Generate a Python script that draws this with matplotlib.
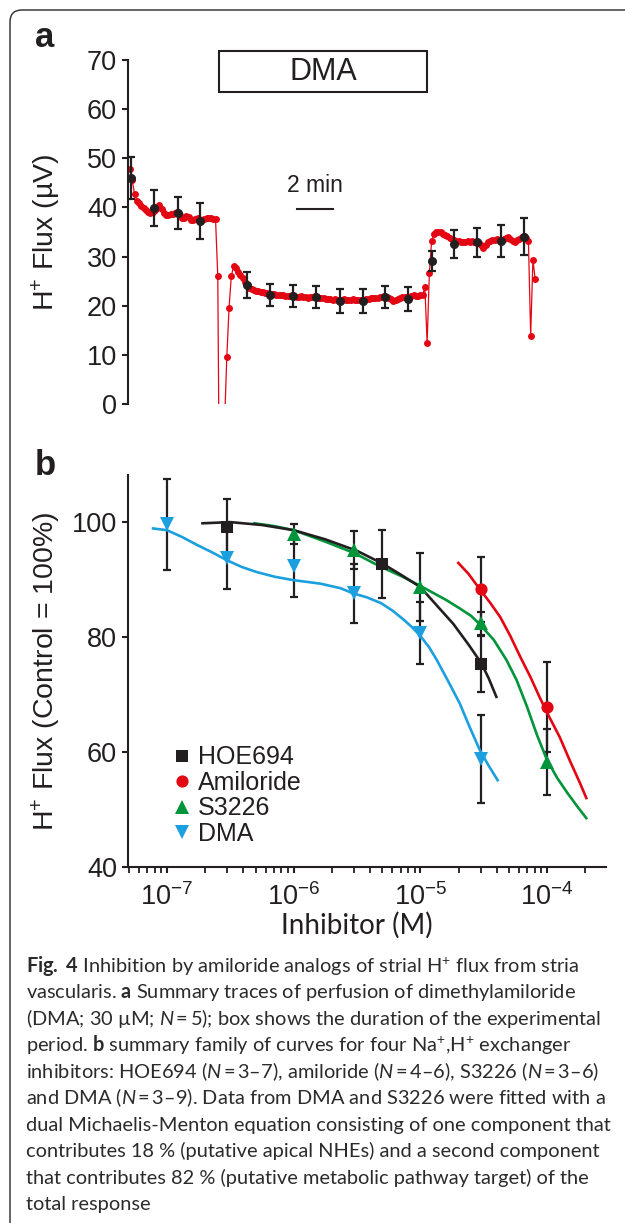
import numpy as np
import matplotlib
matplotlib.use("Agg")
import matplotlib.pyplot as plt
from matplotlib.patches import Rectangle, FancyBboxPatch
from matplotlib.lines import Line2D
from matplotlib.ticker import LogLocator, NullFormatter, FixedLocator

plt.rcParams["font.family"] = ["Liberation Sans", "DejaVu Sans"]
plt.rcParams["mathtext.fontset"] = "custom"
plt.rcParams["mathtext.rm"] = "Lato"
plt.rcParams["mathtext.it"] = "Lato:italic"
plt.rcParams["mathtext.bf"] = "Lato:bold"
plt.rcParams["mathtext.default"] = "regular"

INK = "#231f20"
RED = "#e30613"
GREEN = "#00953a"
BLUE = "#1b9fdf"

# ---------- panel a: DMA perfusion, summary trace ----------
DT_MIN = 0.125  # sampling interval of the trace (min)
trace_flux = [
    47.8, 45.5, 42.8, 41.4, 40.8, 40.3, 39.8, 39.5, 39.1, 38.8,
    39.0, 39.5, 39.8, 40.4, 39.6, 38.8, 38.5, 38.5, 38.6, 38.6,
    38.8, 39.0, 38.5, 37.9, 37.9, 38.2, 38.0, 37.5, 37.4, 37.6,
    37.8, 37.5, 37.4, 37.7, 37.9, 37.8, 37.8, 37.7, 37.6, 26.0,
    -38.0, -42.0, -4.0, 9.5, 19.5, 26.0, 28.0, 27.7, 26.9, 26.2,
    25.6, 24.8, 24.2, 23.7, 23.4, 23.1, 23.0, 22.9, 22.7, 22.7,
    22.6, 22.6, 22.4, 22.3, 22.3, 22.2, 22.2, 22.1, 22.2, 22.0,
    21.9, 22.0, 22.1, 21.9, 21.8, 21.8, 21.9, 21.7, 21.8, 21.6,
    21.7, 21.8, 21.9, 21.7, 21.6, 21.5, 21.6, 21.4, 21.3, 21.4,
    21.2, 21.3, 21.2, 21.1, 21.2, 21.3, 21.2, 21.1, 21.2, 21.3,
    21.2, 21.1, 21.2, 21.1, 21.2, 21.3, 21.4, 21.5, 21.6, 21.5,
    21.6, 21.7, 21.8, 21.9, 21.7, 21.5, 21.3, 21.0, 21.1, 21.4,
    21.6, 21.7, 21.8, 21.7, 21.8, 22.0, 22.1, 22.0, 22.0, 22.1,
    22.2, 23.8, 12.4, 26.7, 33.2, 34.6, 35.0, 35.1, 35.0, 34.6,
    34.4, 34.1, 33.8, 33.5, 33.3, 33.2, 33.1, 33.0, 33.0, 33.0,
    33.1, 33.0, 33.1, 33.0, 32.9, 32.8, 32.4, 31.7, 32.3, 33.0,
    33.2, 33.3, 33.4, 33.5, 33.4, 33.3, 33.5, 33.7, 33.9, 33.6,
    33.2, 33.0, 33.3, 33.6, 33.9, 34.1, 33.8, 33.2, 13.9, 29.4,
    25.4,
]
mean_t = [0.06, 1.33, 2.67, 3.89, 6.50, 7.78, 9.06, 10.33, 11.67,
          12.94, 14.17, 15.44, 16.78, 18.00, 19.28, 20.61, 21.89]
mean_flux = [46.0, 39.9, 38.9, 37.2, 24.2, 22.2, 22.0, 21.8, 21.0,
             21.0, 21.8, 21.4, 29.1, 32.6, 32.9, 33.2, 34.0]
mean_sem = [4.2, 3.6, 3.2, 3.7, 2.65, 2.3, 2.25, 2.25, 2.45,
            2.4, 2.2, 2.4, 2.0, 2.85, 2.95, 3.25, 3.75]
dma_on, dma_off = 4.94, 16.5      # perfusion period (min)
bar_start, bar_len = 9.28, 2.0    # time scale bar (min)

# ---------- panel b: concentration-response ----------
hoe_conc = [3e-7, 5e-6, 3e-5]
hoe_flux = [99.1, 92.7, 75.3]
hoe_sem = [4.9, 5.9, 4.9]
ami_conc = [3e-5, 1e-4]
ami_flux = [88.3, 67.8]
ami_sem = [5.6, 7.8]
s32_conc = [1e-6, 3e-6, 1e-5, 3e-5, 1e-4]
s32_flux = [97.9, 95.1, 88.7, 82.4, 58.3]
s32_sem = [1.7, 3.3, 5.9, 2.0, 5.7]
dma_conc = [1e-7, 3e-7, 1e-6, 3e-6, 1e-5, 3e-5]
dma_flux = [99.6, 93.7, 92.3, 87.6, 80.7, 58.8]
dma_sem = [7.9, 5.4, 5.3, 5.2, 5.4, 7.6]

# fitted curves (log10 M, %)
hoe_fit_logc = [-6.72, -6.5, -6.25, -6.0, -5.75, -5.5, -5.3, -5.15, -5.0,
                -4.85, -4.74, -4.62, -4.52, -4.46, -4.40]
hoe_fit = [99.8, 100.0, 99.5, 98.6, 97.0, 95.0, 92.8, 90.8, 88.7,
           85.0, 82.3, 78.7, 75.5, 72.8, 69.6]
ami_fit_logc = [-4.70, -4.62, -4.53, -4.45, -4.37, -4.29, -4.21, -4.13,
                -4.06, -3.98, -3.90, -3.82, -3.74, -3.69]
ami_fit = [92.9, 91.0, 88.3, 86.0, 83.5, 80.2, 76.5, 73.0,
           69.6, 66.0, 62.6, 58.5, 54.6, 52.0]
s32_fit_logc = [-6.31, -6.15, -6.0, -5.75, -5.52, -5.31, -5.15, -5.0, -4.9,
                -4.8, -4.69, -4.6, -4.53, -4.42, -4.32, -4.24, -4.16, -4.08,
                -4.0, -3.92, -3.84, -3.76, -3.69]
s32_fit = [99.8, 99.3, 98.6, 96.6, 94.6, 92.2, 90.6, 88.9, 87.7,
           86.5, 85.0, 83.7, 82.2, 79.5, 76.0, 72.5, 68.0, 63.0,
           58.6, 55.5, 52.9, 50.5, 48.5]
dma_fit_logc = [-7.11, -7.0, -6.88, -6.76, -6.64, -6.53, -6.41, -6.29, -6.15,
                -6.0, -5.79, -5.63, -5.53, -5.42, -5.31, -5.22, -5.13, -5.06,
                -5.0, -4.93, -4.87, -4.78, -4.69, -4.61, -4.53, -4.46, -4.39]
dma_fit = [98.9, 98.6, 97.4, 96.0, 94.7, 93.4, 92.2, 91.3, 90.5,
           89.9, 89.3, 88.5, 87.6, 86.9, 85.9, 84.6, 83.0, 81.6,
           80.2, 78.2, 76.0, 72.3, 68.5, 64.3, 60.3, 57.6, 55.1]

TS = "\u2009"  # thin space used around '=' in the caption
caption = [
    r"$\mathbf{Fig.}$ $\mathbf{4}$ Inhibition by amiloride analogs of strial H$^{+}$ flux from stria",
    r"vascularis. $\mathbf{a}$ Summary traces of perfusion of dimethylamiloride",
    rf"(DMA; 30 µM; $\mathit{{N}}${TS}={TS}5); box shows the duration of the experimental",
    r"period. $\mathbf{b}$ summary family of curves for four Na$^{+}$,H$^{+}$ exchanger",
    rf"inhibitors: HOE694 ($\mathit{{N}}${TS}={TS}3–7), amiloride ($\mathit{{N}}${TS}={TS}4–6), "
    rf"S3226 ($\mathit{{N}}${TS}={TS}3–6)",
    rf"and DMA ($\mathit{{N}}${TS}={TS}3–9). Data from DMA and S3226 were fitted with a",
    "dual Michaelis-Menton equation consisting of one component that",
    "contributes 18 % (putative apical NHEs) and a second component",
    "that contributes 82 % (putative metabolic pathway target) of the",
    "total response",
]

W, H = 625, 1223
fig = plt.figure(figsize=(W / 100, H / 100), dpi=100)

# outer frame (top and left edges only, rounded corner)
frame = FancyBboxPatch((0.10, -1.0), 10.0, 13.13, boxstyle="round,pad=0,rounding_size=0.12",
                       transform=fig.dpi_scale_trans, fill=False, ec="#3a3a3a", lw=1.1)
fig.add_artist(frame)

# ---------- panel a ----------
ax_a = fig.add_axes([128 / W, 1 - 404 / H, 472 / W, 344 / H])
t = np.arange(len(trace_flux)) * DT_MIN
ax_a.plot(t, trace_flux, "-", color=RED, lw=0.9, marker="o", ms=5.0, mew=0, zorder=2)
ax_a.errorbar(mean_t, mean_flux, yerr=mean_sem, fmt="o", color=INK, ms=5.5,
              elinewidth=1.6, capsize=3.0, capthick=1.6, zorder=3)
ax_a.set_xlim(-0.111, 26.1)
ax_a.set_ylim(0, 70)
ax_a.set_yticks(range(0, 71, 10))
for s in ("top", "right", "bottom"):
    ax_a.spines[s].set_visible(False)
ax_a.spines["left"].set_linewidth(1.5)
ax_a.spines["left"].set_color(INK)
ax_a.set_xticks([])
ax_a.tick_params(axis="y", labelsize=19.5, length=4.5, width=1.5, pad=3.5, colors=INK)
ax_a.set_ylabel(r"H$^{+}$ Flux (µV)", fontsize=20.5, color=INK)
ax_a.yaxis.set_label_coords(-0.137, 0.5)

ax_a.add_patch(Rectangle((dma_on, 63.5), dma_off - dma_on, 8.3, fill=False,
                         ec=INK, lw=1.5, clip_on=False))
ax_a.text((dma_on + dma_off) / 2, 67.5, "DMA", ha="center", va="center",
          fontsize=22, color=INK, clip_on=False)
ax_a.plot([bar_start, bar_start + bar_len], [39.7, 39.7], color=INK, lw=1.5)
ax_a.text(bar_start + bar_len / 2, 42.2, "2 min", ha="center", va="bottom",
          fontsize=16.5, color=INK)

# ---------- panel b ----------
ax_b = fig.add_axes([128 / W, 1 - 867 / H, 478 / W, 392 / H])
ax_b.set_xscale("log")
ax_b.set_xlim(4.92e-8, 2.92e-4)
ax_b.set_ylim(40, 108.2)


def draw_series(conc, flux, sem, fit_logc, fit, color, marker, ms):
    ax_b.errorbar(conc, flux, yerr=sem, fmt="none", ecolor=INK, elinewidth=1.6,
                  capsize=3.0, capthick=1.6, zorder=2)
    ax_b.plot(10.0 ** np.array(fit_logc), fit, color=color, lw=1.9, zorder=3)
    ax_b.plot(conc, flux, ls="none", marker=marker, ms=ms, color=color, mew=0, zorder=4)


draw_series(dma_conc, dma_flux, dma_sem, dma_fit_logc, dma_fit, BLUE, "v", 10)
draw_series(s32_conc, s32_flux, s32_sem, s32_fit_logc, s32_fit, GREEN, "^", 10)
draw_series(hoe_conc, hoe_flux, hoe_sem, hoe_fit_logc, hoe_fit, INK, "s", 8.3)
draw_series(ami_conc, ami_flux, ami_sem, ami_fit_logc, ami_fit, RED, "o", 8.8)

for s in ("top", "right"):
    ax_b.spines[s].set_visible(False)
for s in ("left", "bottom"):
    ax_b.spines[s].set_linewidth(1.5)
    ax_b.spines[s].set_color(INK)
ax_b.set_yticks([40, 60, 80, 100])
ax_b.xaxis.set_major_locator(FixedLocator([1e-7, 1e-6, 1e-5, 1e-4]))
ax_b.set_xticklabels([r"$10^{-7}$", r"$10^{-6}$", r"$10^{-5}$", r"$10^{-4}$"])
ax_b.xaxis.set_minor_locator(LogLocator(base=10, subs=np.arange(2, 10), numticks=20))
ax_b.xaxis.set_minor_formatter(NullFormatter())
ax_b.tick_params(axis="both", which="major", labelsize=19.5, length=4.5, width=1.5, colors=INK)
ax_b.tick_params(axis="y", pad=3.5)
ax_b.tick_params(axis="x", pad=7)
ax_b.tick_params(axis="x", which="minor", length=4, width=1.3, colors=INK)
ax_b.set_ylabel(r"H$^{+}$ Flux (Control = 100%)", fontsize=20.5, color=INK)
ax_b.yaxis.set_label_coords(-0.135, 0.5)
ax_b.set_xlabel("Inhibitor (M)", fontfamily="Lato", fontsize=20, color=INK)
ax_b.xaxis.set_label_coords(0.479, -0.115)

handles = [
    Line2D([], [], ls="none", marker="s", ms=8.3, color=INK, mew=0),
    Line2D([], [], ls="none", marker="o", ms=8.8, color=RED, mew=0),
    Line2D([], [], ls="none", marker="^", ms=10, color=GREEN, mew=0),
    Line2D([], [], ls="none", marker="v", ms=10, color=BLUE, mew=0),
]
ax_b.legend(handles, ["HOE694", "Amiloride", "S3226", "DMA"], loc="upper left",
            bbox_to_anchor=(0.097, 0.31), frameon=False, fontsize=18,
            handlelength=0.6, handletextpad=0.34, labelspacing=0.06,
            borderpad=0, borderaxespad=0, labelcolor=INK)

# panel letters
fig.text(35 / W, 1 - 47 / H, "a", fontsize=25, fontweight="bold", color=INK, va="baseline")
fig.text(35 / W, 1 - 475 / H, "b", fontsize=25, fontweight="bold", color=INK, va="baseline")

# caption
for k, line in enumerate(caption):
    fig.text(26 / W, 1 - (971.5 + 26.55 * k) / H, line, fontfamily=["Lato", "DejaVu Sans"],
             fontsize=14.4, color="#2b2b2b", va="baseline", ha="left")

fig.savefig("out.png", dpi=100)
